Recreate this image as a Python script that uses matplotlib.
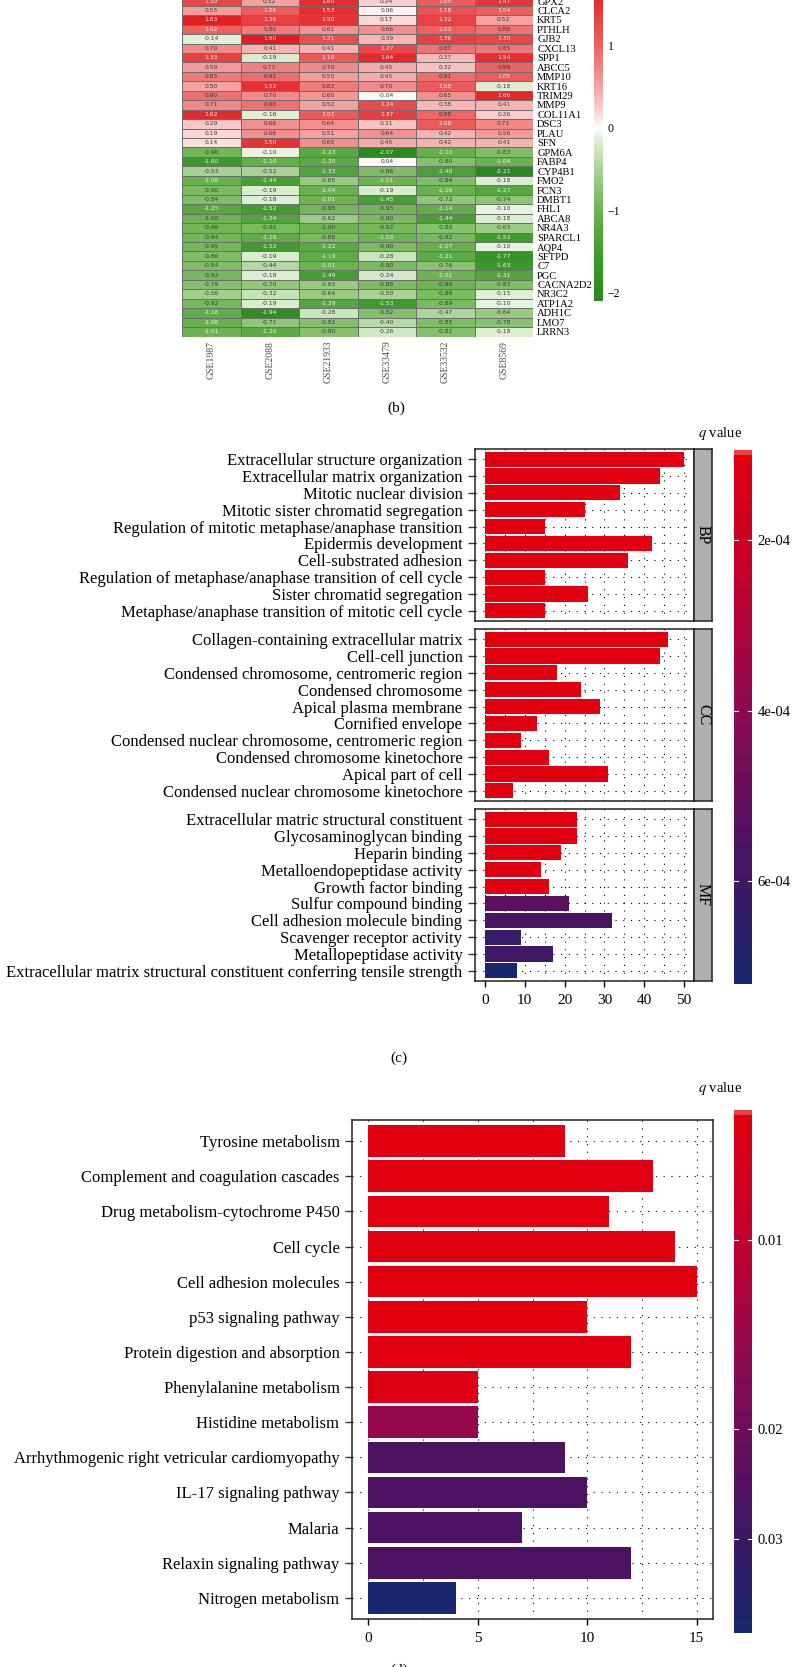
import numpy as np
import matplotlib
matplotlib.use('Agg')
import matplotlib.pyplot as plt
from matplotlib.colors import LinearSegmentedColormap, Normalize, LogNorm
import matplotlib.ticker as mticker

# ---------------- data ----------------
genes = ['GPX2', 'CLCA2', 'KRT5', 'PTHLH', 'GJB2', 'CXCL13', 'SPP1', 'ABCC5', 'MMP10',
         'KRT16', 'TRIM29', 'MMP9', 'COL11A1', 'DSC3', 'PLAU', 'SFN',
         'GPM6A', 'FABP4', 'CYP4B1', 'FMO2', 'FCN3', 'DMBT1', 'FHL1', 'ABCA8', 'NR4A3',
         'SPARCL1', 'AQP4', 'SFTPD', 'C7', 'PGC', 'CACNA2D2', 'NR3C2', 'ATP1A2', 'ADH1C',
         'LMO7', 'LRRN3']
datasets = ['GSE1987', 'GSE2088', 'GSE21933', 'GSE33479', 'GSE33532', 'GSE8569']
gse1987 = [1.30, 0.55, 1.83, 1.02, -0.14, 0.70, 1.33, 0.59, 0.83, 0.50, 0.90, 0.71, 1.62, 0.29, 0.19, 0.14,
           -0.96, -1.60, -0.53, -1.06, -0.90, -0.84, -1.25, -1.00, -0.96, -0.94, -0.95, -0.86, -0.84, -0.92,
           -0.79, -0.56, -0.92, -1.16, -1.06, -1.01]
gse2088 = [0.52, 1.06, 1.36, 0.80, 1.90, 0.41, -0.19, 0.77, 0.91, 1.52, 0.70, 0.90, -0.16, 0.66, 0.66, 1.50,
           -0.10, -1.10, -0.52, -1.44, -0.19, -0.18, -1.52, -1.34, -0.90, -1.16, -1.52, -0.19, -0.44, -0.18,
           -0.70, -0.32, -0.19, -1.94, -0.71, -1.20]
gse21933 = [1.60, 1.53, 1.50, 0.61, 1.21, 0.41, 1.10, 0.70, 0.55, 0.82, 0.60, 0.52, 1.07, 0.64, 0.51, 0.65,
            -1.23, -1.20, -1.33, -0.65, -1.04, -1.01, -0.95, -0.62, -1.00, -0.88, -1.22, -1.19, -1.01, -1.49,
            -0.63, -0.64, -1.29, -0.28, -0.82, -0.80]
gse33479 = [0.24, 0.06, 0.17, 0.66, 0.39, 1.27, 1.64, 0.45, 0.45, 0.70, -0.04, 1.24, 1.37, 0.31, 0.64, 0.45,
            -2.07, 0.04, -0.86, -1.01, -0.19, -1.45, -0.95, -0.90, -0.92, -1.03, -0.90, -0.28, -0.90, -0.24,
            -0.88, -0.50, -1.53, -0.82, -0.40, -0.26]
gse33532 = [1.05, 1.18, 1.32, 1.03, 1.36, 0.87, 0.37, 0.32, 0.91, 1.08, 0.65, 0.38, 0.98, 1.08, 0.42, 0.42,
            -1.10, -0.80, -1.40, -0.84, -1.06, -0.72, -1.14, -1.44, -0.80, -0.92, -1.07, -1.21, -0.76, -1.01,
            -0.99, -0.89, -0.89, -0.47, -0.85, -0.82]
gse8569 = [1.47, 1.04, 0.52, 0.88, 1.30, 0.85, 1.54, 0.99, 1.05, -0.18, 1.66, 0.41, 0.26, 0.71, 0.56, 0.41,
           -0.83, -1.04, -2.21, -0.18, -1.27, -0.74, -0.10, -0.18, -0.63, -1.52, -0.10, -1.77, -1.63, -1.31,
           -0.83, -0.15, -0.10, -0.64, -0.78, -0.18]
hm_ticks = [1, 0, -1, -2]

bp_terms = ['Extracellular structure organization', 'Extracellular matrix organization',
            'Mitotic nuclear division', 'Mitotic sister chromatid segregation',
            'Regulation of mitotic metaphase/anaphase transition', 'Epidermis development',
            'Cell-substrated adhesion', 'Regulation of metaphase/anaphase transition of cell cycle',
            'Sister chromatid segregation', 'Metaphase/anaphase transition of mitotic cell cycle']
bp_counts = [50, 44, 34, 25, 15, 42, 36, 15, 26, 15]
bp_q = [0.95e-4, 0.95e-4, 0.95e-4, 0.95e-4, 0.95e-4, 0.95e-4, 0.95e-4, 0.95e-4, 0.95e-4, 0.95e-4]

cc_terms = ['Collagen-containing extracellular matrix', 'Cell-cell junction',
            'Condensed chromosome, centromeric region', 'Condensed chromosome',
            'Apical plasma membrane', 'Cornified envelope',
            'Condensed nuclear chromosome, centromeric region', 'Condensed chromosome kinetochore',
            'Apical part of cell', 'Condensed nuclear chromosome kinetochore']
cc_counts = [46, 44, 18, 24, 29, 13, 9, 16, 31, 7]
cc_q = [0.95e-4, 0.95e-4, 0.95e-4, 0.95e-4, 0.95e-4, 0.95e-4, 0.95e-4, 0.95e-4, 0.95e-4, 0.95e-4]

mf_terms = ['Extracellular matric structural constituent', 'Glycosaminoglycan binding',
            'Heparin binding', 'Metalloendopeptidase activity', 'Growth factor binding',
            'Sulfur compound binding', 'Cell adhesion molecule binding', 'Scavenger receptor activity',
            'Metallopeptidase activity',
            'Extracellular matrix structural constituent conferring tensile strength']
mf_counts = [23, 23, 19, 14, 16, 21, 32, 9, 17, 8]
mf_q = [1.0e-4, 1.0e-4, 1.0e-4, 1.0e-4, 1.0e-4, 5.3e-4, 5.8e-4, 6.2e-4, 6.05e-4, 7.2e-4]
go_ticks = [2e-4, 4e-4, 6e-4]
go_ticklabels = ['2e-04', '4e-04', '6e-04']

kegg_terms = ['Tyrosine metabolism', 'Complement and coagulation cascades',
              'Drug metabolism-cytochrome P450', 'Cell cycle', 'Cell adhesion molecules',
              'p53 signaling pathway', 'Protein digestion and absorption',
              'Phenylalanine metabolism', 'Histidine metabolism',
              'Arrhythmogenic right vetricular cardiomyopathy', 'IL-17 signaling pathway',
              'Malaria', 'Relaxin signaling pathway', 'Nitrogen metabolism']
kegg_counts = [9, 13, 11, 14, 15, 10, 12, 5, 5, 9, 10, 7, 12, 4]
kegg_q = [0.0063, 0.0063, 0.0063, 0.0063, 0.0063, 0.0063, 0.0063, 0.0066, 0.0147, 0.0262, 0.0262,
          0.0262, 0.0262, 0.0423]
kegg_ticks = [0.01, 0.02, 0.03]
kegg_ticklabels = ['0.01', '0.02', '0.03']

# ---------------- setup ----------------
W, H = 799, 1667
DPI = 100
plt.rcParams['font.family'] = ['Liberation Serif', 'DejaVu Serif']
plt.rcParams['mathtext.fontset'] = 'stix'
fig = plt.figure(figsize=(W / DPI, H / DPI), dpi=DPI)


def ax_px(x0, y0, x1, y1):
    return fig.add_axes([x0 / W, 1 - y1 / H, (x1 - x0) / W, (y1 - y0) / H])


def fig_text(x, y, s, **kw):
    return fig.text(x / W, 1 - y / H, s, **kw)


# ---------------- (b) heatmap ----------------
hm_cmap = LinearSegmentedColormap.from_list('hm', [
    (0.0, '#2A8A1F'), (0.13, '#3F9A2E'), (0.26, '#6DB352'), (0.38, '#A9D396'),
    (0.47, '#E3F1DC'), (0.5, '#FFFFFF'), (0.53, '#FBE0E0'), (0.62, '#F4A3A3'),
    (0.74, '#EC6262'), (0.87, '#E42D2F'), (1.0, '#DF141A')])
hm_norm = Normalize(-2.1, 2.1)
mat = np.column_stack([gse1987, gse2088, gse21933, gse33479, gse33532, gse8569])
nr, nc = mat.shape

axh = ax_px(182, -3.7, 533, 336.5)
axh.pcolormesh(np.arange(nc + 1), np.arange(nr + 1), mat, cmap=hm_cmap, norm=hm_norm,
               edgecolors='#6e6e6e', linewidth=0.5)
axh.set_xlim(0, nc)
axh.set_ylim(nr, 0)
for i in range(nr):
    for j in range(nc):
        v = mat[i, j]
        axh.text(j + 0.5, i + 0.5, f'{v:.2f}', ha='center', va='center', fontsize=4.3,
                 family='DejaVu Sans', color='#f0f0f0' if abs(v) > 1.0 else '#3a3a3a')
for s in axh.spines.values():
    s.set_visible(False)
axh.yaxis.tick_right()
axh.set_yticks(np.arange(nr) + 0.5)
axh.set_yticklabels(genes, fontsize=7.6)
axh.set_xticks(np.arange(nc) + 0.5)
axh.set_xticklabels(datasets, rotation=90, fontsize=7, color='#4a4a4a')
axh.tick_params(length=0, pad=3)

axcb = ax_px(594, -45, 602, 301)
grad = np.linspace(2.1, -2.1, 400).reshape(-1, 1)
axcb.imshow(grad, aspect='auto', cmap=hm_cmap, norm=hm_norm, extent=[0, 1, -2.1, 2.1])
axcb.set_ylim(-2.1, 2.1)
axcb.set_xticks([])
axcb.yaxis.tick_right()
axcb.set_yticks(hm_ticks)
axcb.set_yticklabels([str(t).replace('-', '\u2212') for t in hm_ticks], fontsize=8.5)
axcb.tick_params(length=0, pad=4)
for s in axcb.spines.values():
    s.set_visible(False)

fig_text(396, 408, '(b)', ha='center', va='center', fontsize=11)

# ---------------- q colormap ----------------
q_cmap = LinearSegmentedColormap.from_list('q', [
    (0.0, '#E1000F'), (0.25, '#C2002E'), (0.5, '#8A0A55'), (0.75, '#4C1262'), (1.0, '#17286E')])


def draw_bars(ax, terms, counts, qs, qnorm, xmax, xminor, xmajor, fs):
    n = len(terms)
    y = np.arange(n)
    ax.barh(y, counts, height=0.9, color=q_cmap(qnorm(np.array(qs))), zorder=3)
    ax.set_ylim(n - 0.4, -0.6)
    ax.set_xlim(-0.05 * xmax, 1.05 * xmax)
    ax.set_yticks(y)
    ax.set_yticklabels(terms, fontsize=fs)
    ax.xaxis.set_major_locator(mticker.MultipleLocator(xmajor))
    ax.xaxis.set_minor_locator(mticker.MultipleLocator(xminor))
    ax.set_axisbelow(True)
    ax.grid(True, which='both', axis='x', color='black', linestyle=(0, (1, 6)), linewidth=0.8)
    ax.grid(True, which='major', axis='y', color='black', linestyle=(0, (1, 6)), linewidth=0.8)
    ax.tick_params(axis='y', length=5, width=1.0, pad=4, color='#333333')
    ax.tick_params(axis='x', which='minor', length=0)
    for s in ax.spines.values():
        s.set_linewidth(1.1)
        s.set_color('#222222')


def draw_qbar(x0, y0, x1, y1, qnorm, ticks, labels, fs):
    # colourbar drawn in normalised units: 0 (top, small q) -> 1 (bottom, large q)
    ax = ax_px(x0, y0, x1, y1)
    g = np.linspace(0, 1, 400).reshape(-1, 1)
    ax.imshow(g, aspect='auto', cmap=q_cmap, vmin=0, vmax=1, extent=[0, 1, 1, 0])
    ax.axhspan(0, 0.009, color='#EE4040', lw=0)
    ax.set_ylim(1, 0)
    ax.set_xlim(0, 1)
    ax.set_xticks([])
    tpos = [float(qnorm(t)) for t in ticks]
    ax.yaxis.tick_right()
    ax.set_yticks(tpos)
    ax.set_yticklabels(labels, fontsize=fs)
    ax.tick_params(length=0, pad=4)
    for t in tpos:
        ax.plot([0, 0.2], [t, t], color='white', lw=0.8)
        ax.plot([0.8, 1], [t, t], color='white', lw=0.8)
    for s in ax.spines.values():
        s.set_visible(False)
    return ax


# ---------------- (c) GO ----------------
go_norm = Normalize(0.937e-4, 7.21e-4)
panels = [(bp_terms, bp_counts, bp_q, 'BP', 449, 621),
          (cc_terms, cc_counts, cc_q, 'CC', 629, 801),
          (mf_terms, mf_counts, mf_q, 'MF', 809, 981)]
for k, (terms, counts, qs, lab, t, b) in enumerate(panels):
    ax = ax_px(475, t, 694, b)
    draw_bars(ax, terms, counts, qs, go_norm, 50, 5, 10, 12)
    if k < 2:
        ax.tick_params(axis='x', which='major', length=0, labelbottom=False)
    else:
        ax.tick_params(axis='x', which='major', length=4, width=1.0, labelsize=11, pad=5)
    sax = ax_px(694, t, 712, b)
    sax.set_facecolor('#B0B0B0')
    sax.set_xticks([])
    sax.set_yticks([])
    for s in sax.spines.values():
        s.set_linewidth(1.1)
        s.set_color('#222222')
    sax.text(0.5, 0.5, lab, rotation=270, ha='center', va='center', fontsize=11.5,
             transform=sax.transAxes)

draw_qbar(734, 450, 752, 984, go_norm, go_ticks, go_ticklabels, 10.5)
fig_text(720, 434, r'$q$ value', ha='center', va='center', fontsize=10.5)
fig_text(399, 1058, '(c)', ha='center', va='center', fontsize=11)

# ---------------- (d) KEGG ----------------
kg_norm = LogNorm(0.0062, 0.0424)
axd = ax_px(352, 1120, 713, 1619)
draw_bars(axd, kegg_terms, kegg_counts, kegg_q, kg_norm, 15, 2.5, 5, 12)
axd.tick_params(axis='x', which='major', length=4, width=1.0, labelsize=11, pad=5)
draw_qbar(734, 1110, 752, 1633, kg_norm, kegg_ticks, kegg_ticklabels, 10.5)
fig_text(720, 1088, r'$q$ value', ha='center', va='center', fontsize=10.5)
fig_text(399, 1670, '(d)', ha='center', va='center', fontsize=11)

fig.savefig('out.png', dpi=DPI)
